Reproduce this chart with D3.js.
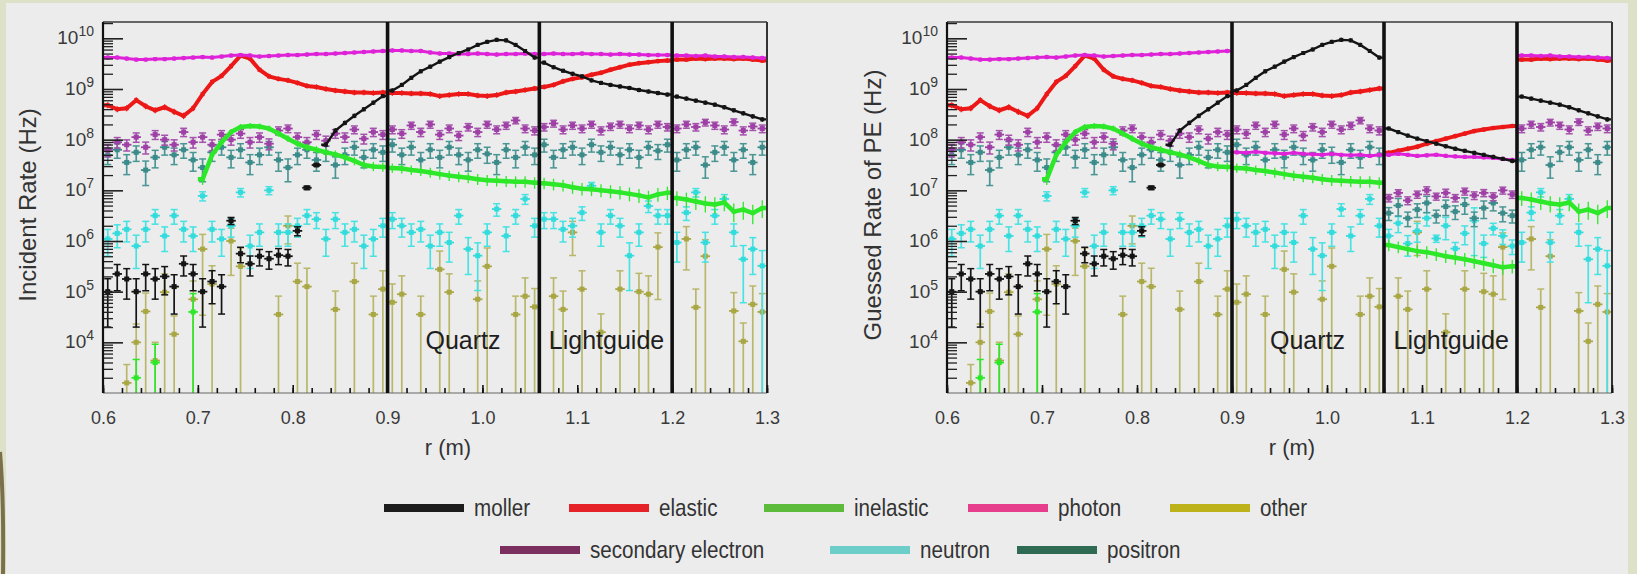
<!DOCTYPE html>
<html>
<head>
<meta charset="utf-8">
<script src="https://cdn.jsdelivr.net/npm/d3@7"></script>
<style>
  body { margin: 0; background: #dde1c8; }
  svg { display: block; font-family: "Liberation Sans", Arial, Helvetica, sans-serif; }
</style>
</head>
<body>
<div id="chart"></div>
<script>
// histogram binning in r (m): 70 bins of 0.01 from 0.6
const binLow = 0.6;
const binWidth = 0.01;
const nBins = 70;

// log10(rate / Hz) per bin, read off the "Incident Rate" panel (null = no entry)
const moller = [
  5.00, 5.35, 5.25, 5.00, 5.35, 5.25, 5.30, 5.10, 5.55, 5.35,
  5.00, 5.20, 5.10, 6.40, 5.75, 5.55, 5.70, 5.65, 5.72, 5.70,
  6.20, 7.05, 7.50, 7.90, 8.18, 8.33, 8.47, 8.60, 8.73, 8.86,
  8.97, 9.08, 9.22, 9.35, 9.44, 9.54, 9.63, 9.71, 9.78, 9.87,
  9.93, 9.97, 9.96, 9.87, 9.75, 9.62, 9.52, 9.43, 9.36, 9.30,
  9.25, 9.17, 9.12, 9.08, 9.05, 9.02, 8.98, 8.95, 8.92, 8.89,
  8.85, 8.81, 8.77, 8.73, 8.69, 8.64, 8.58, 8.52, 8.46, 8.40
];
const elastic = [
  8.68, 8.60, 8.62, 8.78, 8.66, 8.58, 8.64, 8.55, 8.47, 8.62,
  8.90, 9.14, 9.26, 9.45, 9.66, 9.60, 9.38, 9.25, 9.20, 9.17,
  9.12, 9.06, 9.04, 9.00, 8.97, 8.95, 8.93, 8.93, 8.92, 8.93,
  8.92, 8.92, 8.91, 8.91, 8.90, 8.86, 8.88, 8.90, 8.90, 8.87,
  8.86, 8.88, 8.93, 8.95, 8.98, 9.01, 9.04, 9.08, 9.15, 9.20,
  9.23, 9.28, 9.32, 9.38, 9.43, 9.48, 9.51, 9.53, 9.55, 9.56,
  9.58, 9.58, 9.60, 9.59, 9.60, 9.60, 9.59, 9.60, 9.58, 9.56
];
const inelastic = [
  null, null, null, 3.30, null, 3.60, null, null, null, 4.60,
  7.22, 7.70, 7.95, 8.15, 8.25, 8.27, 8.26, 8.22, 8.12, 8.02,
  7.92, 7.85, 7.80, 7.75, 7.71, 7.65, 7.58, 7.50, 7.47, 7.46,
  7.44, 7.43, 7.40, 7.38, 7.35, 7.32, 7.29, 7.27, 7.25, 7.22,
  7.20, 7.19, 7.18, 7.17, 7.17, 7.15, 7.14, 7.12, 7.10, 7.06,
  7.03, 7.02, 7.00, 6.98, 6.96, 6.93, 6.90, 6.86, 6.92, 6.95,
  6.85, 6.82, 6.78, 6.74, 6.72, 6.76, 6.58, 6.62, 6.55, 6.65
];
const photon = [
  9.62, 9.62, 9.60, 9.58, 9.58, 9.59, 9.59, 9.60, 9.61, 9.62,
  9.63, 9.62, 9.64, 9.66, 9.67, 9.66, 9.64, 9.65, 9.66, 9.67,
  9.67, 9.68, 9.69, 9.69, 9.70, 9.71, 9.72, 9.73, 9.74, 9.75,
  9.76, 9.76, 9.75, 9.75, 9.72, 9.70, 9.70, 9.69, 9.69, 9.70,
  9.69, 9.68, 9.69, 9.69, 9.70, 9.69, 9.69, 9.70, 9.69, 9.69,
  9.70, 9.69, 9.69, 9.68, 9.69, 9.68, 9.68, 9.67, 9.67, 9.67,
  9.66, 9.66, 9.65, 9.66, 9.64, 9.64, 9.63, 9.63, 9.62, 9.61
];
const other = [
  null, null, 3.20, 4.00, 4.61, 3.64, 4.99, 4.16, null, 4.85,
  5.84, 5.15, null, 6.00, 5.50, null, null, null, 4.55, 6.30,
  5.20, 5.10, null, null, 4.65, null, 5.20, null, 4.55, 5.05,
  4.79, 4.95, null, 4.55, null, 5.44, 4.99, null, null, 4.85,
  5.50, null, null, 4.55, 4.91, 4.70, null, 4.91, 4.65, 6.17,
  5.05, null, 4.20, null, 5.05, null, 5.00, 4.95, 5.88, null,
  null, 6.04, 4.69, 5.70, null, null, 4.62, 4.02, 4.75, 4.60
];
const secondaryElectron = [
  7.80, 7.95, 7.90, 8.05, 7.85, 8.10, 8.00, 7.90, 8.15, 7.95,
  8.05, 7.90, 8.10, 8.00, 8.12, 7.95, 8.05, 7.92, 8.18, 8.22,
  8.05, 7.95, 8.10, 7.98, 8.12, 8.05, 8.20, 8.02, 8.15, 8.10,
  8.20, 8.12, 8.28, 8.15, 8.30, 8.10, 8.22, 8.08, 8.25, 8.15,
  8.30, 8.20, 8.28, 8.38, 8.22, 8.18, 8.25, 8.32, 8.20, 8.28,
  8.22, 8.30, 8.18, 8.26, 8.30, 8.22, 8.28, 8.20, 8.30, 8.25,
  8.22, 8.30, 8.25, 8.34, 8.28, 8.20, 8.35, 8.18, 8.26, 8.22
];
const neutron = [
  6.04, 6.15, 6.23, 5.90, 6.23, 6.50, 6.10, 6.50, 6.23, 6.10,
  6.89, 6.23, 6.04, 6.30, 6.96, 5.90, 6.17, 7.00, 6.17, 6.17,
  6.30, 6.50, 6.43, 6.04, 6.43, 6.17, 6.23, 5.90, 6.04, 6.30,
  6.43, 6.30, 6.17, 6.23, 5.90, 6.17, 5.97, 6.50, 5.84, 5.71,
  6.17, 6.63, 6.10, 6.50, 6.83, 6.30, 6.43, 6.43, 6.23, 6.30,
  6.56, 7.09, 6.17, 6.50, 6.30, 5.71, 6.17, 6.69, 6.50, 6.50,
  5.97, 6.56, 6.96, 5.97, 6.50, 6.83, 6.17, 5.64, 5.84, 5.51
];
const positron = [
  7.70, 7.80, 7.55, 7.75, 7.40, 7.65, 7.85, 7.70, 7.80, 7.60,
  7.45, 7.75, 7.85, 7.65, 7.80, 7.55, 7.70, 7.85, 7.60, 7.45,
  7.70, 7.80, 7.60, 7.75, 7.50, 7.70, 7.85, 7.65, 7.80, 7.75,
  7.90, 7.70, 7.85, 7.60, 7.80, 7.65, 7.85, 7.70, 7.60, 7.80,
  7.72, 7.55, 7.80, 7.65, 7.85, 7.70, 7.90, 7.65, 7.80, 7.85,
  7.70, 7.90, 7.75, 7.85, 7.70, 7.80, 7.65, 7.85, 7.78, 7.90,
  7.60, 7.80, 7.85, 7.50, 7.75, 7.85, 7.60, 7.80, 7.55, 7.85
];

// "Guessed Rate of PE" panel: values that differ from the incident panel
// photon in the quartz bins (0.905 .. 1.055)
const pePhotonQuartz = [7.75, 7.74, 7.76, 7.74, 7.73, 7.72, 7.74, 7.72, 7.71, 7.70, 7.72, 7.70, 7.69, 7.70, 7.68, 7.70];
// lightguide bins (1.065 .. 1.195)
const peMollerGuide = [8.22, 8.15, 8.08, 8.02, 7.97, 7.92, 7.87, 7.82, 7.78, 7.74, 7.70, 7.66, 7.62, 7.58];
const peElasticGuide = [7.74, 7.78, 7.82, 7.86, 7.92, 7.97, 8.02, 8.07, 8.12, 8.17, 8.20, 8.23, 8.25, 8.27];
const peInelasticGuide = [5.92, 5.88, 5.84, 5.80, 5.78, 5.74, 5.70, 5.67, 5.64, 5.60, 5.56, 5.52, 5.48, 5.50];
const pePhotonGuide = [7.70, 7.72, 7.70, 7.68, 7.69, 7.70, 7.68, 7.67, 7.66, 7.66, 7.65, 7.64, 7.62, 7.60];
const peSecondaryGuide = [6.85, 6.95, 6.80, 6.92, 7.00, 6.88, 6.95, 6.85, 6.98, 6.90, 6.95, 6.88, 7.00, 6.92];
const peNeutronGuide = [6.10, 6.35, 5.95, 6.20, 6.45, 6.05, 6.30, 5.85, 6.15, 6.40, 5.95, 6.25, 6.10, 5.90];
const pePositronGuide = [6.55, 6.70, 6.45, 6.62, 6.75, 6.50, 6.68, 6.58, 6.72, 6.45, 6.65, 6.75, 6.55, 6.50];

const regionEdges = [0.9, 1.06, 1.2];
const regionLabels = [{ text: "Quartz", r: 0.94 }, { text: "Lightguide", r: 1.07 }];
const xTickLabels = [0.6, 0.7, 0.8, 0.9, 1.0, 1.1, 1.2, 1.3];
const yDecades = [4, 5, 6, 7, 8, 9, 10];

// drawing styles, in draw order (lineMin: bins at or above this log10 value are joined by a line)
const styles = [
  { name: "other", values: other, color: "#a9a744", bar: "#b9b76a", legend: "#bdb21a", errK: 2.5 },
  { name: "neutron", values: neutron, color: "#33dcdc", bar: "#48e2e2", legend: "#6ccdc9", errK: 1.8 },
  { name: "positron", values: positron, color: "#3b8b8a", bar: "#4a9694", legend: "#2f6b53", errK: 8 },
  { name: "secondary electron", values: secondaryElectron, color: "#9e40a6", bar: "#a452ab", legend: "#7b2f5e", errK: 7 },
  { name: "inelastic", values: inelastic, color: "#2de829", bar: "#2de829", legend: "#5dbb3b", errK: 2, lineMin: 5.4, lineWidth: 4.5 },
  { name: "elastic", values: elastic, color: "#ec1818", bar: "#ec1818", legend: "#e62229", errK: 3, lineMin: 7, lineWidth: 4 },
  { name: "photon", values: photon, color: "#de22d8", bar: "#de22d8", legend: "#e63e8c", errK: 2, lineMin: 7, lineWidth: 3 },
  { name: "moller", values: moller, color: "#141414", bar: "#141414", legend: "#1c1c1c", errK: 0.8, lineMin: 7.55, lineWidth: 2.4 }
];
const legendRows = [
  ["moller", "elastic", "inelastic", "photon", "other"],
  ["secondary electron", "neutron", "positron"]
];

const peOverrides = {
  moller: { guide: peMollerGuide },
  elastic: { guide: peElasticGuide },
  inelastic: { guide: peInelasticGuide },
  photon: { quartz: pePhotonQuartz, guide: pePhotonGuide },
  "secondary electron": { guide: peSecondaryGuide },
  neutron: { guide: peNeutronGuide },
  positron: { guide: pePositronGuide }
};

const width = 1637;
const height = 574;
const plotTop = 22;
const plotBottom = 393;
const yMin = 1e3;
const yMax = 2.1e10;

const binCenter = (i) => binLow + binWidth * (i + 0.5);
const quartzStart = d3.range(nBins).findIndex((i) => binCenter(i) > 0.9);
const guideStart = d3.range(nBins).findIndex((i) => binCenter(i) > 1.06);
const crossesEdge = (a, b) => regionEdges.some((e) => a < e && b > e);

function peValues(s) {
  const o = peOverrides[s.name] || {};
  return s.values.map((v, i) => {
    if (o.quartz && i >= quartzStart && i < quartzStart + o.quartz.length) return o.quartz[i - quartzStart];
    if (o.guide && i >= guideStart && i < guideStart + o.guide.length) return o.guide[i - guideStart];
    return v;
  });
}

const svg = d3.select("#chart").append("svg").attr("width", width).attr("height", height);

svg.append("rect").attr("width", width).attr("height", height).attr("fill", "#dde1c8");
svg.append("rect").attr("x", 6).attr("y", 3).attr("width", 1622).attr("height", height - 3).attr("fill", "#ececec");
svg.append("path").attr("d", "M0,452 Q4,500 3,574").attr("fill", "none").attr("stroke", "#7a704c").attr("stroke-width", 4);

const panels = [
  { id: "inc", x0: 103, x1: 767, title: "Incident Rate (Hz)", titleX: 27, valuesOf: (s) => s.values },
  { id: "pe", x0: 947, x1: 1612, title: "Guessed Rate of PE (Hz)", titleX: 872, valuesOf: peValues }
];

panels.forEach(renderPanel);
renderLegend();

function renderPanel(p) {
  const x = d3.scaleLinear().domain([0.6, 1.3]).range([p.x0, p.x1]);
  const y = d3.scaleLog().domain([yMin, yMax]).range([plotBottom, plotTop]);
  const g = svg.append("g").attr("class", "panel");

  g.append("clipPath").attr("id", `clip-${p.id}`)
    .append("rect").attr("x", p.x0).attr("y", plotTop).attr("width", p.x1 - p.x0).attr("height", plotBottom - plotTop);

  const dataG = g.append("g").attr("clip-path", `url(#clip-${p.id})`);

  styles.forEach((s) => {
    const vals = p.valuesOf(s);
    const pts = vals.map((v, i) => {
      if (v == null) return null;
      const base = s.values[i] != null ? s.values[i] : v;
      const rel = s.errK * Math.sqrt(1e5 / 10 ** base);
      const inLine = s.lineMin != null && v >= s.lineMin;
      return { i, c: binCenter(i), log: v, v: 10 ** v, rel, inLine };
    }).filter(Boolean);
    const loose = pts.filter((d) => !d.inLine);
    const joined = pts.filter((d) => d.inLine);

    const sg = dataG.append("g").attr("class", "series").attr("stroke", s.bar).attr("fill", "none");
    const lo = (d) => (d.rel >= 0.98 ? yMin * 0.5 : d.v * (1 - d.rel));
    const hi = (d) => d.v * (1 + Math.min(d.rel, 1.3));

    // joined (smooth) part: connect neighbouring bins within one detector region
    if (joined.length) {
      const segs = [];
      let cur = [];
      joined.forEach((d, k) => {
        const prev = joined[k - 1];
        if (k > 0 && (d.i !== prev.i + 1 || crossesEdge(prev.c, d.c))) { segs.push(cur); cur = []; }
        cur.push(d);
      });
      segs.push(cur);
      const line = d3.line().x((d) => x(d.c)).y((d) => y(d.v));
      sg.selectAll(".seg").data(segs).join("path")
        .attr("d", (seg) => {
          const ext = [{ c: seg[0].c - binWidth / 2, v: seg[0].v }, ...seg, { c: seg[seg.length - 1].c + binWidth / 2, v: seg[seg.length - 1].v }];
          return line(ext);
        })
        .attr("stroke", s.color).attr("stroke-width", s.lineWidth)
        .attr("stroke-linejoin", "miter");
      sg.selectAll(".jerr").data(joined).join("line")
        .attr("x1", (d) => x(d.c)).attr("x2", (d) => x(d.c))
        .attr("y1", (d) => y(lo(d)) + 2).attr("y2", (d) => y(hi(d)) - 2)
        .attr("stroke-width", 1.3);
      sg.selectAll(".jmark").data(joined).join("rect")
        .attr("x", (d) => x(d.c) - 2).attr("y", (d) => y(d.v) - 2)
        .attr("width", 4).attr("height", 4)
        .attr("stroke", "none").attr("fill", s.color);
    }

    // loose points: error bars with caps
    sg.selectAll(".err").data(loose).join("line")
      .attr("x1", (d) => x(d.c)).attr("x2", (d) => x(d.c))
      .attr("y1", (d) => y(lo(d))).attr("y2", (d) => y(hi(d)))
      .attr("stroke-width", 1.7);
    sg.selectAll(".cap-hi").data(loose).join("line")
      .attr("x1", (d) => x(d.c) - 3.5).attr("x2", (d) => x(d.c) + 3.5)
      .attr("y1", (d) => y(hi(d))).attr("y2", (d) => y(hi(d)))
      .attr("stroke-width", 1.5);
    sg.selectAll(".cap-lo").data(loose.filter((d) => d.rel < 0.98)).join("line")
      .attr("x1", (d) => x(d.c) - 3.5).attr("x2", (d) => x(d.c) + 3.5)
      .attr("y1", (d) => y(lo(d))).attr("y2", (d) => y(lo(d)))
      .attr("stroke-width", 1.5);
    sg.selectAll(".bin").data(loose).join("line")
      .attr("x1", (d) => x(d.c - binWidth / 2)).attr("x2", (d) => x(d.c + binWidth / 2))
      .attr("y1", (d) => y(d.v)).attr("y2", (d) => y(d.v))
      .attr("stroke", s.color).attr("stroke-width", 1.8);
    sg.selectAll(".marker").data(loose).join("rect")
      .attr("x", (d) => x(d.c) - 2.5).attr("y", (d) => y(d.v) - 2.5)
      .attr("width", 5).attr("height", 5)
      .attr("stroke", "none").attr("fill", s.color);
  });

  // region labels
  g.selectAll(".region-label").data(regionLabels).join("text")
    .attr("x", (d) => x(d.r)).attr("y", 349)
    .attr("font-size", 25).attr("fill", "#1e1e1e")
    .text((d) => d.text);

  // frame
  g.append("line").attr("x1", p.x0).attr("x2", p.x1).attr("y1", plotTop).attr("y2", plotTop)
    .attr("stroke", "#3a3a3a").attr("stroke-width", 1.3);
  g.append("line").attr("x1", p.x0).attr("x2", p.x1).attr("y1", plotBottom).attr("y2", plotBottom)
    .attr("stroke", "#666").attr("stroke-width", 1.2);
  g.append("line").attr("x1", p.x1).attr("x2", p.x1).attr("y1", plotTop).attr("y2", plotBottom)
    .attr("stroke", "#333").attr("stroke-width", 2);

  // x axis ticks and labels
  const minorX = d3.range(0, 36).map((k) => 0.6 + k * 0.02);
  g.append("g").attr("transform", `translate(0,${plotBottom})`)
    .call(d3.axisBottom(x).tickValues(minorX).tickSize(-5).tickFormat(""))
    .call((a) => a.select(".domain").remove())
    .call((a) => a.selectAll("line").attr("stroke", "#111").attr("stroke-width", 1.6));
  g.append("g").attr("transform", `translate(0,${plotBottom})`)
    .call(d3.axisBottom(x).tickValues(xTickLabels).tickSize(-8).tickPadding(18).tickFormat(d3.format(".1f")))
    .call((a) => a.select(".domain").remove())
    .call((a) => a.selectAll("line").attr("stroke", "#111").attr("stroke-width", 1.6))
    .call((a) => a.selectAll("text").attr("font-size", 18).attr("fill", "#3a3a3a")
      .attr("font-family", "'Liberation Sans', Arial, sans-serif"));

  // y axis ticks
  const minorY = [];
  for (let e = 3; e <= 10; e++) {
    for (let k = 2; k <= 9; k++) if (k * 10 ** e <= yMax) minorY.push(k * 10 ** e);
  }
  const majorY = yDecades.map((e) => 10 ** e);
  g.append("g").attr("transform", `translate(${p.x0},0)`)
    .call(d3.axisLeft(y).tickValues(minorY).tickSize(-10).tickFormat(""))
    .call((a) => a.select(".domain").remove())
    .call((a) => a.selectAll("line").attr("stroke", "#222").attr("stroke-width", 1.3));
  g.append("g").attr("transform", `translate(${p.x0},0)`)
    .call(d3.axisLeft(y).tickValues(majorY).tickSize(-20).tickFormat(""))
    .call((a) => a.select(".domain").remove())
    .call((a) => a.selectAll("line").attr("stroke", "#222").attr("stroke-width", 1.6));
  g.append("line").attr("x1", p.x0).attr("x2", p.x0).attr("y1", plotTop).attr("y2", plotBottom)
    .attr("stroke", "#111").attr("stroke-width", 2.2);

  const yl = g.selectAll(".ylab").data(yDecades).join("text")
    .attr("x", p.x0 - 9).attr("y", (d) => y(10 ** d) + 6)
    .attr("text-anchor", "end").attr("fill", "#3a3a3a").attr("font-size", 19);
  yl.append("tspan").text("10");
  yl.append("tspan").attr("dy", -8).attr("font-size", 14).text((d) => d);

  // region boundaries
  g.selectAll(".edge").data(regionEdges).join("line")
    .attr("x1", (d) => x(d)).attr("x2", (d) => x(d))
    .attr("y1", plotTop).attr("y2", plotBottom)
    .attr("stroke", "#111").attr("stroke-width", 3.6);

  // titles
  g.append("text")
    .attr("transform", `translate(${p.titleX},205) rotate(-90)`)
    .attr("text-anchor", "middle").attr("dominant-baseline", "central")
    .attr("font-size", 24).attr("fill", "#333")
    .text(p.title);
  g.append("text")
    .attr("x", p.x0 + 345).attr("y", 455)
    .attr("text-anchor", "middle").attr("font-size", 22).attr("fill", "#333")
    .text("r (m)");
}

function renderLegend() {
  const rowY = [508, 550];
  const rowStart = [384, 500];
  const spacing = [[0, 185, 380, 584, 786], [0, 330, 517]];
  const byName = new Map(styles.map((s) => [s.name, s]));
  legendRows.forEach((row, r) => {
    const lg = svg.append("g").attr("transform", `translate(${rowStart[r]},${rowY[r]})`);
    const item = lg.selectAll(".item").data(row).join("g")
      .attr("transform", (d, i) => `translate(${spacing[r][i]},0)`);
    item.append("rect").attr("x", 0).attr("y", -4).attr("width", 80).attr("height", 8)
      .attr("fill", (d) => byName.get(d).legend);
    item.append("text").attr("transform", "translate(90,0) scale(0.86,1)")
      .attr("dominant-baseline", "central")
      .attr("font-size", 24).attr("fill", "#333")
      .text((d) => d);
  });
}
</script>
</body>
</html>
